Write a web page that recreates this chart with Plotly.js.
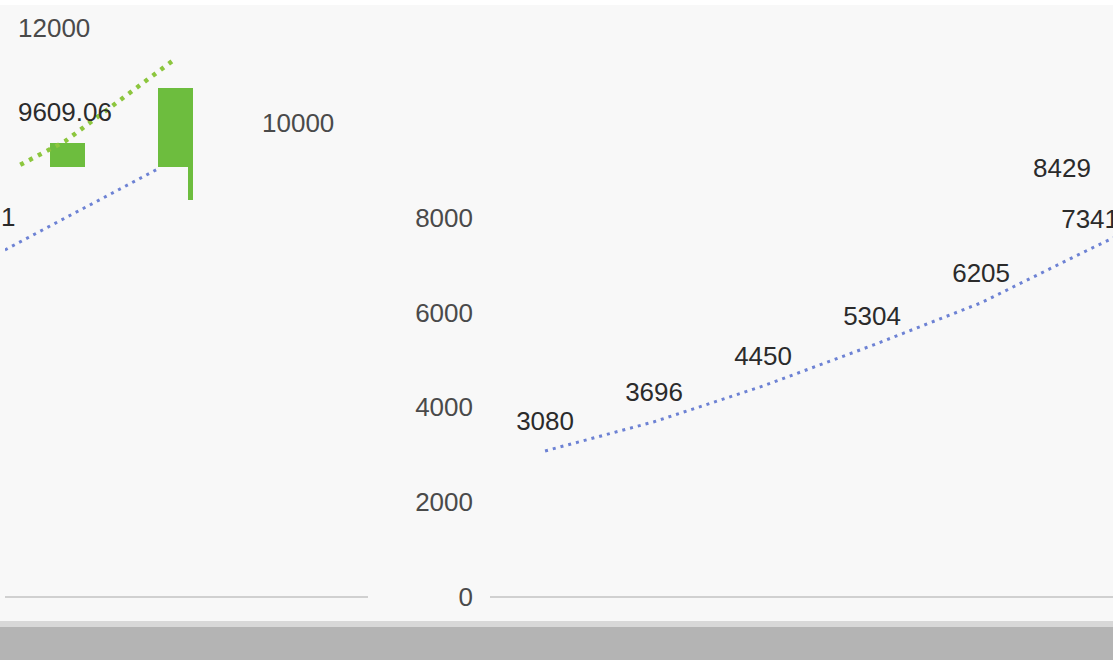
<!DOCTYPE html>
<html><head><meta charset="utf-8">
<script src="https://cdn.plot.ly/plotly-3.0.1.min.js"></script>
<style>html,body{margin:0;padding:0;background:#f8f8f8;}#chart{width:1113px;height:660px;}</style>
</head><body><div id="chart"></div>
<script>
// Main series (period index and values)
const periods = [0, 1, 2, 3, 4, 5, 6];
const blueValues = [3080, 3696, 4450, 5304, 6205, 7341, 8429];
const blueLabels = ['3080', '3696', '4450', '5304', '6205', '7341', ''];
const yTicks = [0, 2000, 4000, 6000, 8000];
const yTickLabels = ['0', '2000', '4000', '6000', '8000'];

// Displaced fragment (top-left)
const fragGreenX = [0.14, 0.55, 1.55];
const fragGreenY = [9115, 9609.06, 11330];
const fragGreenText = ['', '9609.06', ''];
const fragBlueX = [0, 1.42];
const fragBlueY = [7320, 9050];
const fragBarX = [0.57, 1.56, 1.70];
const fragBarWidth = [0.32, 0.32, 0.046];
const fragBarBase = [9070, 9070, 8380];
const fragBarTop = [9580, 10740, 9070];

// Stray tick/label texts displaced in the picture
const strayTexts = ['12000', '10000', '8429', '1'];
const strayValues = [12000, 10000, 9050, 8010];

const W = 1113, H = 660;
const FONT = 'Liberation Sans, Arial, sans-serif';
const LABEL_FONT = {family: FONT, size: 26, color: '#2b2b2b'};
const TICK_FONT = {family: FONT, size: 26, color: '#4a4a4a'};

const traces = [
  {
    x: periods, y: blueValues, type: 'scatter', mode: 'lines+markers+text',
    text: blueLabels, textposition: 'top center', textfont: LABEL_FONT,
    marker: {size: 21, opacity: 0},
    line: {color: '#6d82d4', width: 3, dash: '3px,5px'},
    xaxis: 'x', yaxis: 'y', hoverinfo: 'skip', cliponaxis: true
  },
  {
    x: fragBarX, y: fragBarTop.map((t, i) => t - fragBarBase[i]), base: fragBarBase,
    width: fragBarWidth, type: 'bar', marker: {color: '#6dbd3e'},
    xaxis: 'x2', yaxis: 'y2', hoverinfo: 'skip'
  },
  {
    x: fragGreenX, y: fragGreenY, type: 'scatter', mode: 'lines+markers+text',
    text: fragGreenText, textposition: 'top center', textfont: LABEL_FONT,
    marker: {size: 21, opacity: 0},
    line: {color: '#8cc63e', width: 4.5, dash: '4px,6px'},
    xaxis: 'x2', yaxis: 'y2', hoverinfo: 'skip'
  },
  {
    x: fragBlueX, y: fragBlueY, type: 'scatter', mode: 'lines',
    line: {color: '#6d82d4', width: 3, dash: '3px,5px'},
    xaxis: 'x2', yaxis: 'y2', hoverinfo: 'skip'
  }
];

const strayX = [54 / W, 298 / W, 1062 / W, 17 / W];
const strayAnchor = ['center', 'center', 'center', 'right'];
const annotations = strayTexts.map((t, i) => ({
  xref: 'paper', yref: 'y', x: strayX[i], y: strayValues[i], text: t, showarrow: false,
  xanchor: strayAnchor[i], yanchor: 'middle',
  font: i < 2 ? TICK_FONT : LABEL_FONT
}));

const layout = {
  width: W, height: H,
  margin: {l: 0, r: 0, t: 28, b: 63},
  paper_bgcolor: '#f8f8f8', plot_bgcolor: 'rgba(0,0,0,0)',
  showlegend: false,
  font: {family: FONT, size: 26, color: '#4a4a4a'},
  xaxis: {domain: [490 / W, 1], range: [-0.505, 5.21], showgrid: false, zeroline: false,
          showticklabels: false, showline: false, fixedrange: true},
  yaxis: {range: [0, 12000], tickvals: yTicks, ticktext: yTickLabels, showgrid: false,
          zeroline: true, zerolinecolor: '#d0d0d0', zerolinewidth: 1.5, showline: false,
          ticks: '', ticklabelstandoff: 16, tickfont: TICK_FONT},
  xaxis2: {domain: [5 / W, 368 / W], range: [0, 3.33], anchor: 'y2', showgrid: false,
           zeroline: false, showticklabels: false, showline: false},
  yaxis2: {domain: [0, 1], range: [0, 12000], anchor: 'x2', showgrid: false,
           zeroline: true, zerolinecolor: '#d0d0d0', zerolinewidth: 1.5, showticklabels: false},
  annotations: annotations,
  shapes: [
    {type: 'rect', xref: 'paper', yref: 'paper', x0: 0, x1: 1, y0: 1 + 23 / 569, y1: 1 + 28 / 569,
     fillcolor: '#ffffff', line: {width: 0}},
    {type: 'rect', xref: 'paper', yref: 'paper', x0: 0, x1: 1, y0: -24 / 569, y1: -30 / 569,
     fillcolor: '#d8d8d8', line: {width: 0}},
    {type: 'rect', xref: 'paper', yref: 'paper', x0: 0, x1: 1, y0: -30 / 569, y1: -63 / 569,
     fillcolor: '#b4b4b4', line: {width: 0}}
  ],
  bargap: 0
};

Plotly.newPlot('chart', traces, layout, {displayModeBar: false, staticPlot: true});
</script>
</body></html>
